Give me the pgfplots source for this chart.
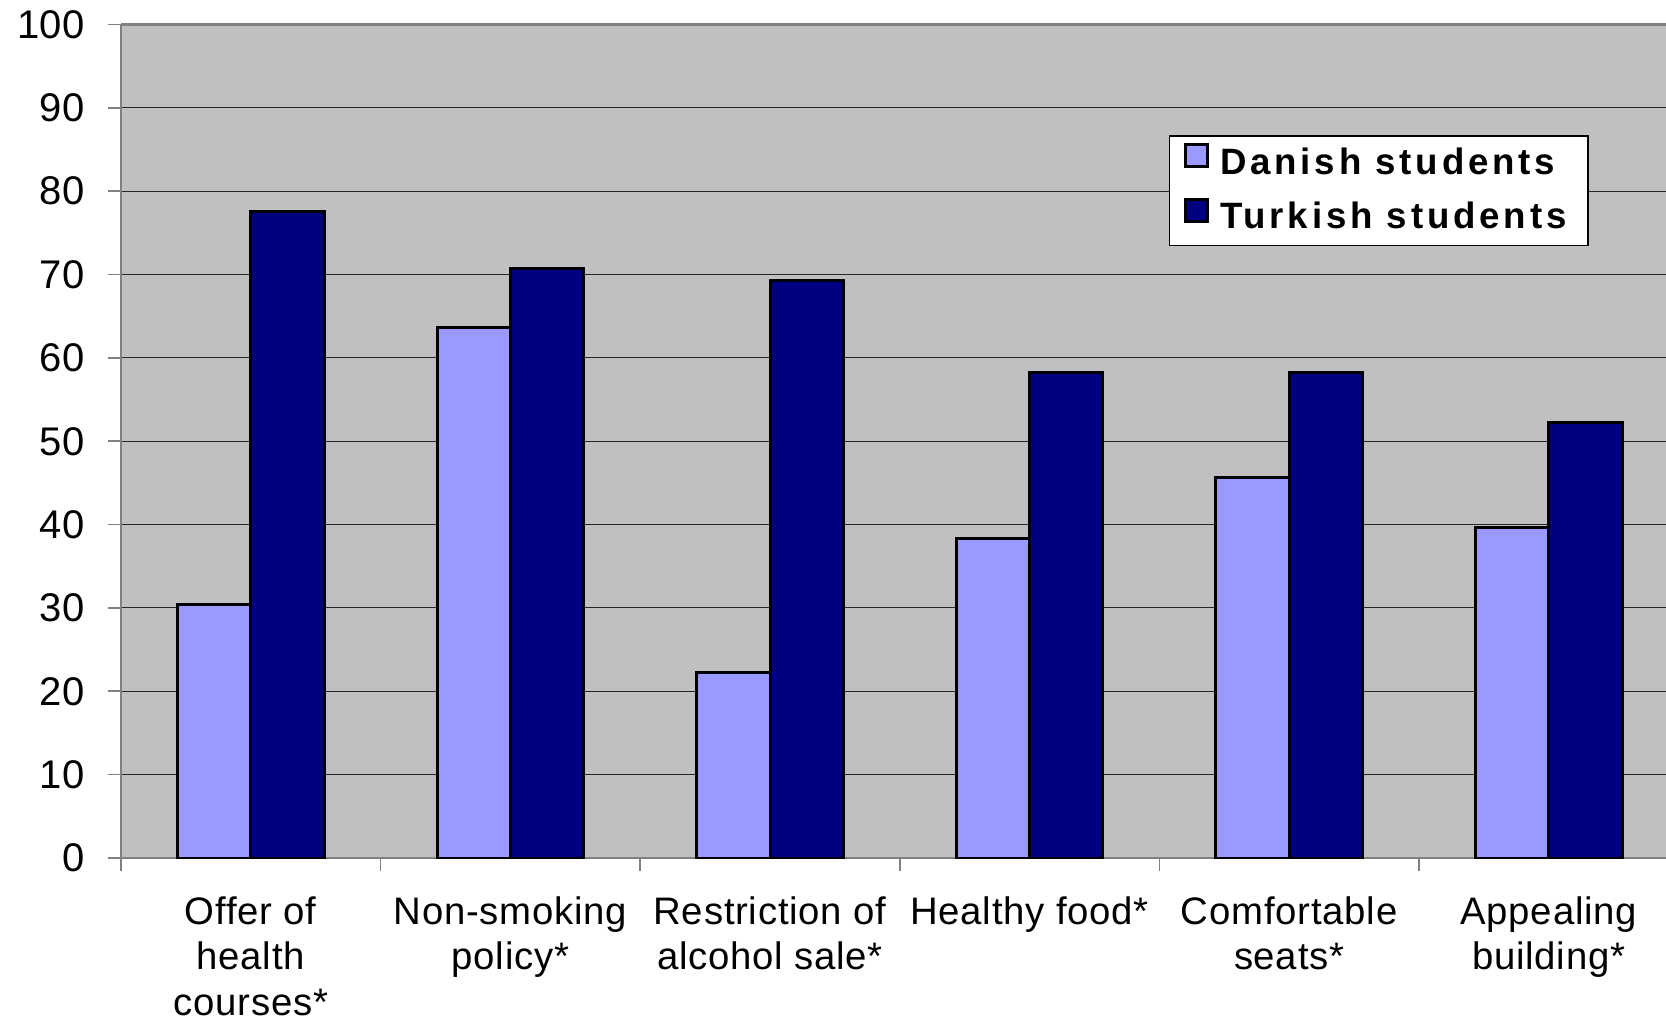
\documentclass[border=0pt]{standalone}
\usepackage{pgfplots}
\pgfplotsset{compat=1.18}
\usepackage{fontspec}
\setmainfont{Liberation Sans}
\newfontfamily\labfont{Liberation Sans}[LetterSpace=2]
\newfontfamily\legfont{Liberation Sans}[LetterSpace=10.5]
\definecolor{danish}{HTML}{9999FF}
\definecolor{turkish}{HTML}{000080}
\definecolor{plotbg}{HTML}{C0C0C0}

\pgfplotstableread{
x danish turkish
0 30.4 77.6
1 63.7 70.7
2 22.2 69.3
3 38.3 58.2
4 45.7 58.2
5 39.7 52.2
}\datatable

\begin{document}
\begin{tikzpicture}
\begin{axis}[
  at={(0,0)}, anchor=south west,
  scale only axis, width=463.5pt, height=250.05pt,
  xmin=-0.5, xmax=5.4515, ymin=0, ymax=100,
  ybar=0pt, bar width=22pt,
  axis background/.style={fill=plotbg},
  axis x line*=bottom, axis y line*=left,
  axis line style={-, draw=gray, line width=0.7pt},
  tick align=outside,
  major tick length=3.9pt,
  minor tick length=3.9pt,
  xtick={0,...,5},
  xticklabels={{Offer of\\health\\courses*},{Non-smoking\\policy*},{Restriction of\\alcohol sale*},{Healthy food*},{Comfortable\\seats*},{Appealing\\building*}},
  major x tick style={draw=none},
  minor xtick={-0.5,0.5,1.5,2.5,3.5,4.5},
  minor x tick style={draw=gray, line width=0.5pt},
  major y tick style={draw=gray, line width=0.5pt},
  ytick={0,10,...,100},
  ymajorgrids,
  major grid style={draw=black!85, line width=0.3pt},
  /pgf/number format/assume math mode=true,
  yticklabel style={anchor=east, inner sep=0pt, xshift=-6.9pt, font=\fontsize{12}{14}\selectfont},
  xticklabel style={anchor=north, inner sep=0pt, align=center, yshift=-7.5pt, font=\labfont\fontsize{11.5}{13.6}\selectfont},
  every axis plot/.append style={draw=black, line width=0.9pt},
  legend style={at={(rel axis cs:0.678,0.8674)}, anchor=north west, draw=black, line width=0.5pt, fill=white,
    font=\legfont\bfseries\fontsize{11}{13}\selectfont, inner xsep=4.5pt, inner ysep=1.5pt, row sep=3pt,
    cells={anchor=west}},
  legend cell align=left,
  legend image code/.code={\draw[#1, line width=0.9pt] (0pt,-0.9pt) rectangle (6.4pt,5.5pt);},
  /tikz/every even column/.append style={column sep=0pt},
  legend entries={\hspace{1.4pt}Danish students, \hspace{1.4pt}Turkish students},
  after end axis/.code={\draw[gray, line width=0.7pt] (rel axis cs:0,1) -- (rel axis cs:1,1);},
]
\addplot[fill=danish] table[x=x, y=danish] {\datatable};
\addplot[fill=turkish] table[x=x, y=turkish] {\datatable};
\end{axis}
\pgfresetboundingbox
\path[use as bounding box] (-36.3pt,-48pt) rectangle (463.5pt,257.4pt);
\end{tikzpicture}
\end{document}
